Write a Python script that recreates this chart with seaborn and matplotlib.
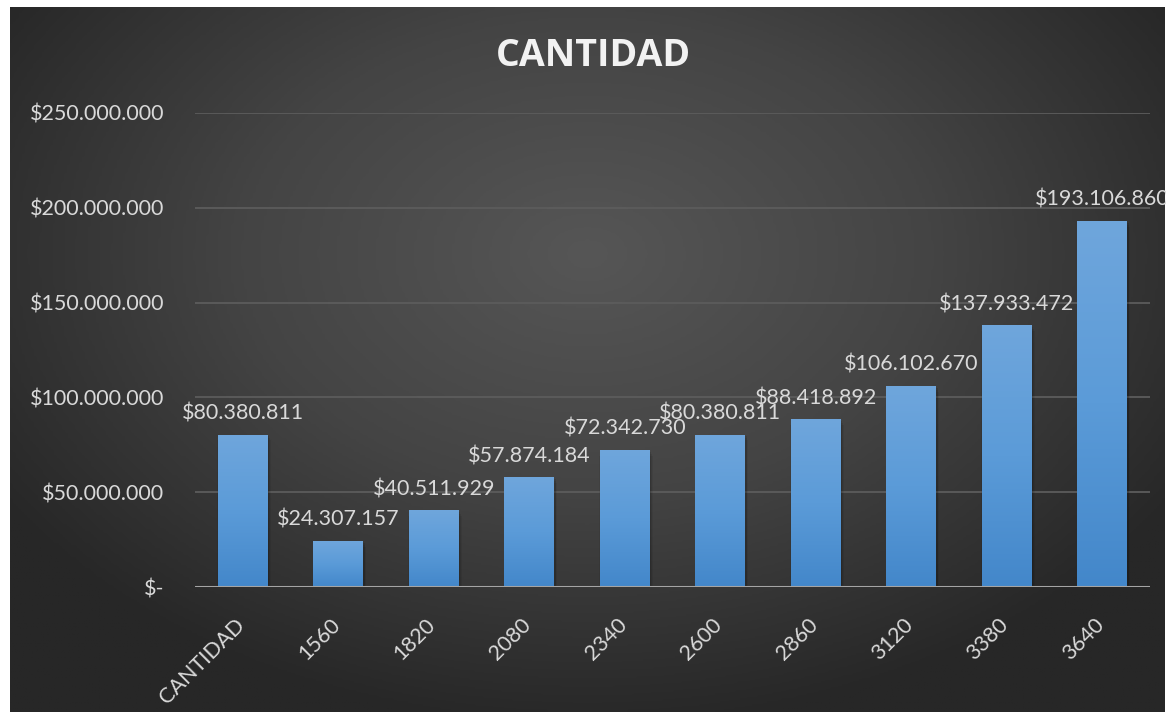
import numpy as np
import pandas as pd
import matplotlib
matplotlib.use('Agg')
import matplotlib.pyplot as plt
import seaborn as sns
from matplotlib.colors import LinearSegmentedColormap
from matplotlib.patches import Rectangle
from matplotlib.transforms import ScaledTranslation

# Data
categories = ['CANTIDAD', '1560', '1820', '2080', '2340', '2600', '2860', '3120', '3380', '3640']
values = [80380811, 24307157, 40511929, 57874184, 72342730, 80380811, 88418892, 106102670, 137933472, 193106860]
y_ticks = [0, 50000000, 100000000, 150000000, 200000000, 250000000]

df = pd.DataFrame({'categoria': categories, 'valor': values})


def money(v):
    if v == 0:
        return '$-'
    return '$' + f'{int(v):,}'.replace(',', '.')


sns.set_theme(style='dark')
plt.rcParams['font.family'] = ['Lato', 'DejaVu Sans']
text_color = '#d9d9d9'

fig = plt.figure(figsize=(11.66, 7.12), dpi=100)
fig.patch.set_facecolor('white')

# Dark radial background panel
bg = fig.add_axes([10 / 1166, 0, 1155 / 1166, 705 / 712])
bg.set_axis_off()
gx, gy = np.meshgrid(np.linspace(0, 1, 400), np.linspace(0, 1, 250))
r = np.sqrt(((gx - 0.5) / 0.8) ** 2 + ((gy - 0.35) / 0.9) ** 2)
r = np.clip(r / 0.75, 0, 1)
bg_cmap = LinearSegmentedColormap.from_list('bg', ['#565656', '#444444', '#272727'])
bg.imshow(r, cmap=bg_cmap, aspect='auto', extent=[0, 1, 1, 0], vmin=0, vmax=1)
bg.set_xlim(0, 1)
bg.set_ylim(1, 0)

ax = fig.add_axes([195 / 1166, 1 - 587 / 712, 955 / 1166, 474 / 712])
ax.set_facecolor('none')

sns.barplot(data=df, x='categoria', y='valor', color='#5b9bd5', width=0.52,
            saturation=1, linewidth=0, ax=ax, zorder=3)

# Vertical gradient + soft shadow on each bar
bar_cmap = LinearSegmentedColormap.from_list('bar', ['#4387ca', '#5b9bd8', '#6fa6dc'])
grad = np.linspace(0, 1, 256).reshape(-1, 1)
for p in ax.patches:
    x0, w, h = p.get_x(), p.get_width(), p.get_height()
    for k, a in enumerate([0.10, 0.08, 0.06]):
        ax.add_patch(Rectangle((x0 - 0.01 * k + 0.015, -1.0e6 * (k + 1)), w + 0.02 * k, h,
                               facecolor='black', alpha=a, edgecolor='none', zorder=2))
    im = ax.imshow(grad, cmap=bar_cmap, origin='lower', aspect='auto',
                   extent=[x0, x0 + w, 0, h], zorder=4)
    im.set_clip_path(p)

# Value labels
for i, v in enumerate(values):
    ax.annotate(money(v), (i, v), xytext=(0, 8), textcoords='offset points',
                ha='center', va='bottom', color=text_color, fontsize=15.5,
                annotation_clip=False, zorder=6)

ax.set_xlim(-0.5, len(categories) - 0.5)
ax.set_ylim(0, 250000000)
ax.set_yticks(y_ticks)
ax.set_yticklabels([money(t) for t in y_ticks], color=text_color, fontsize=15.5)
ax.tick_params(axis='y', length=0, pad=22)
ax.tick_params(axis='x', length=0, pad=20)
plt.setp(ax.get_xticklabels(), rotation=45, ha='right', rotation_mode='anchor',
         color=text_color, fontsize=15.5)
shift = ScaledTranslation(-6 / 72, 0, fig.dpi_scale_trans)
for lbl in ax.get_xticklabels():
    lbl.set_transform(lbl.get_transform() + shift)
ax.set_xlabel('')
ax.set_ylabel('')
ax.grid(axis='y', color='#5c5c5c', linewidth=1.3, zorder=1)
ax.grid(axis='x', visible=False)
ax.axhline(0, color='#a5a5a5', linewidth=2.2, zorder=5)
for s in ax.spines.values():
    s.set_visible(False)

fig.text(0.509, 0.922, 'CANTIDAD', ha='center', va='center', fontsize=27,
         fontweight='bold', color='#f2f2f2', family=['Open Sans', 'DejaVu Sans'])

fig.savefig('out.png', dpi=100)
